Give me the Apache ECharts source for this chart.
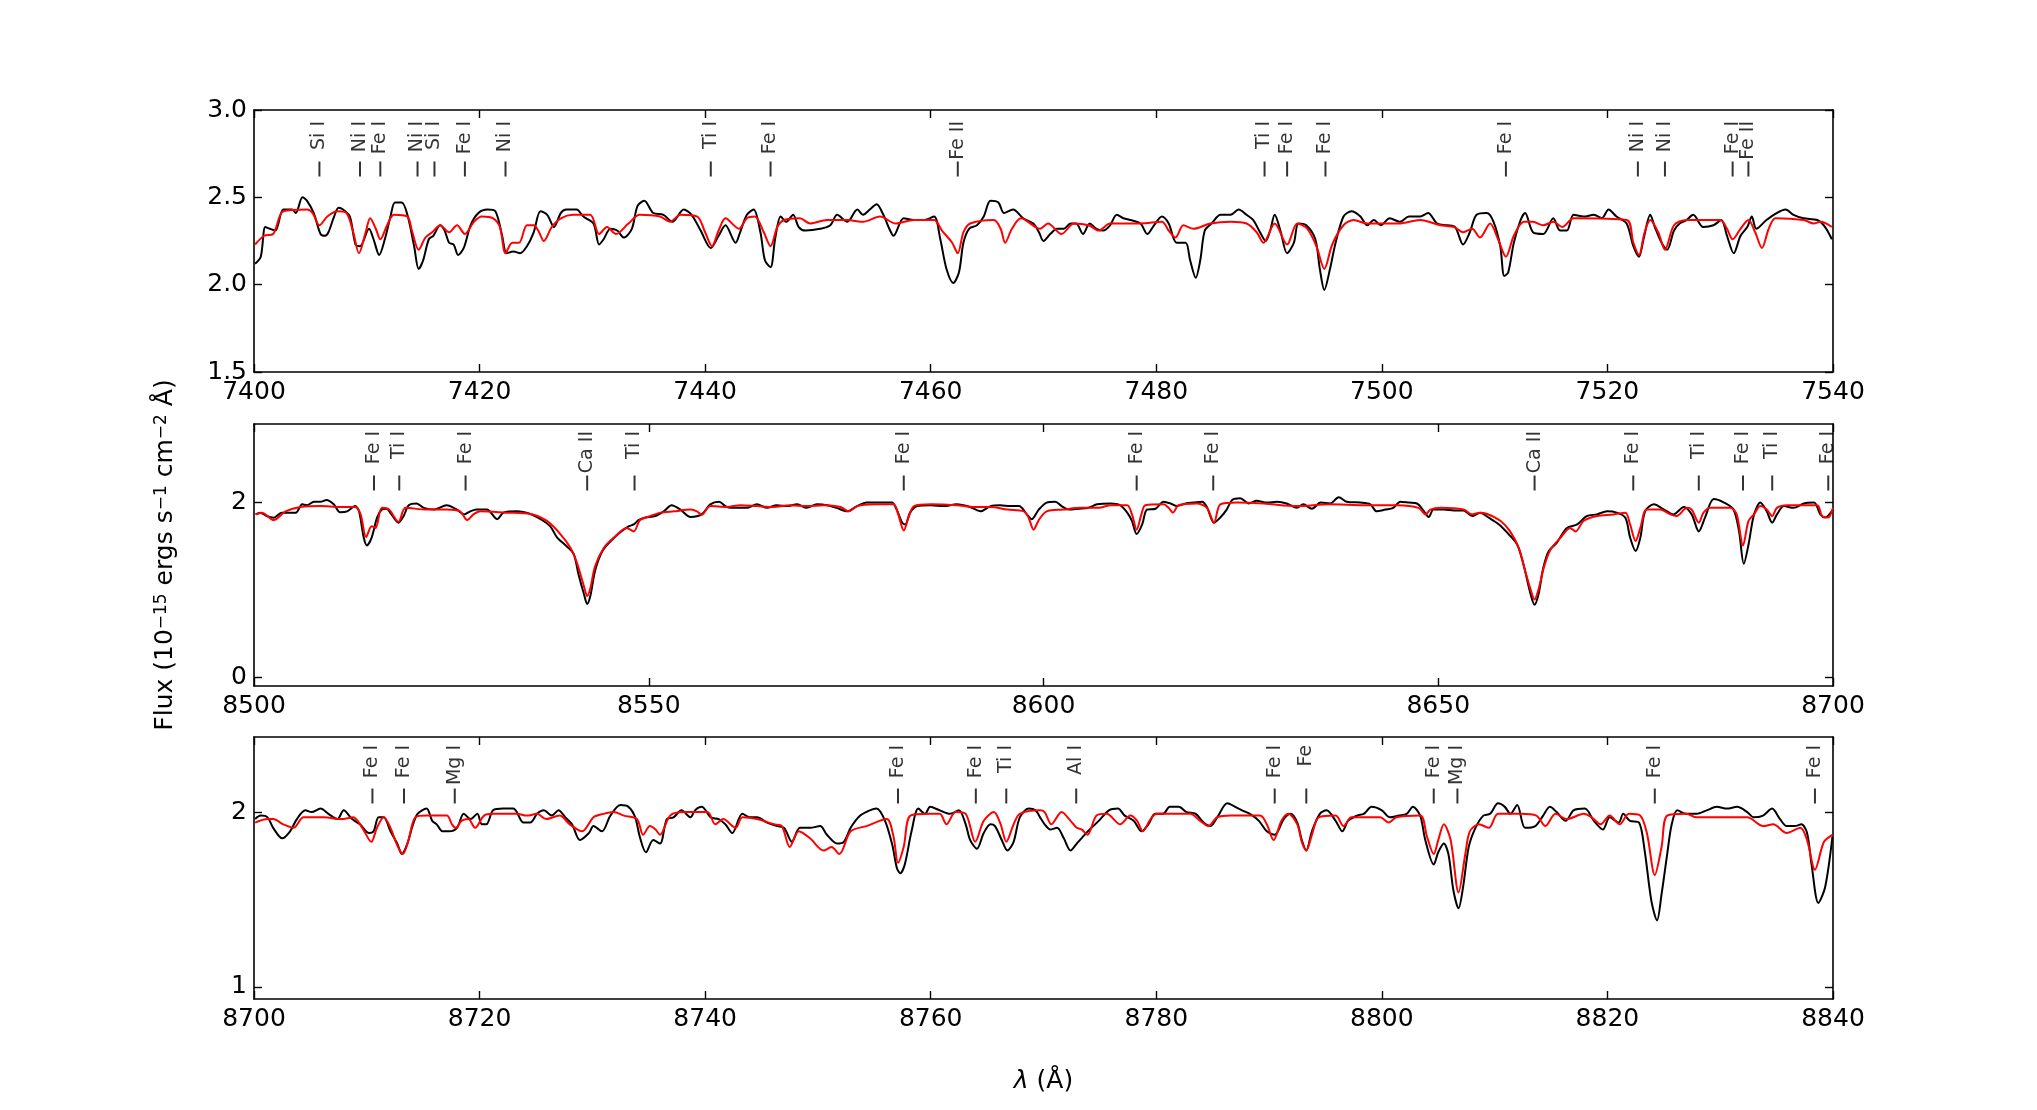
<!DOCTYPE html>
<html>
<head>
<meta charset="utf-8">
<script src="https://cdn.jsdelivr.net/npm/echarts@6/dist/echarts.min.js"></script>
<style>
html, body { margin: 0; padding: 0; background: #fff; }
#chart { width: 2037px; height: 1110px; }
</style>
</head>
<body>
<div id="chart"></div>
<script>
// observed (black) and model (red) spectra, [wavelength, flux]
var obs1 = [[7400.1,2.12],[7400.6,2.16],[7401.0,2.33],[7401.4,2.32],[7401.9,2.31],[7402.6,2.43],[7403.4,2.43],[7403.7,2.41],[7404.3,2.50],[7404.7,2.48],[7405.3,2.41],[7405.9,2.29],[7406.3,2.28],[7406.6,2.30],[7407.1,2.39],[7407.5,2.44],[7407.9,2.43],[7408.5,2.39],[7409.0,2.23],[7409.4,2.22],[7410.2,2.32],[7410.6,2.26],[7411.1,2.17],[7411.6,2.26],[7412.1,2.39],[7412.5,2.47],[7413.1,2.47],[7413.6,2.40],[7414.2,2.22],[7414.6,2.09],[7415.0,2.14],[7415.5,2.26],[7415.9,2.28],[7416.5,2.34],[7416.9,2.31],[7417.3,2.24],[7417.7,2.23],[7418.1,2.17],[7418.6,2.21],[7419.2,2.34],[7419.9,2.41],[7420.7,2.43],[7421.4,2.42],[7422.0,2.28],[7422.4,2.18],[7423.0,2.19],[7423.6,2.18],[7424.2,2.22],[7424.8,2.30],[7425.4,2.42],[7426.0,2.40],[7426.6,2.33],[7427.2,2.41],[7427.7,2.43],[7428.6,2.43],[7429.2,2.39],[7430.1,2.35],[7430.6,2.23],[7431.0,2.26],[7431.6,2.32],[7432.2,2.31],[7432.8,2.27],[7433.5,2.32],[7434.0,2.45],[7434.6,2.48],[7435.4,2.41],[7436.3,2.40],[7437.1,2.36],[7438.1,2.43],[7438.8,2.40],[7439.6,2.31],[7440.5,2.21],[7441.2,2.28],[7441.8,2.34],[7442.7,2.24],[7443.1,2.30],[7443.7,2.40],[7444.3,2.43],[7444.9,2.30],[7445.3,2.14],[7445.8,2.10],[7446.2,2.26],[7446.7,2.39],[7447.2,2.36],[7447.8,2.40],[7448.3,2.33],[7448.9,2.31],[7450.2,2.32],[7451.1,2.34],[7451.7,2.40],[7452.6,2.36],[7453.5,2.43],[7454.0,2.40],[7454.6,2.43],[7455.2,2.46],[7455.8,2.40],[7456.4,2.31],[7456.7,2.28],[7457.6,2.38],[7458.5,2.37],[7459.4,2.37],[7460.3,2.39],[7460.85,2.26],[7461.4,2.09],[7462.0,2.01],[7462.5,2.07],[7462.9,2.24],[7463.4,2.32],[7464.1,2.34],[7464.7,2.39],[7465.3,2.48],[7466.0,2.47],[7466.5,2.41],[7467.3,2.43],[7468.2,2.38],[7469.1,2.35],[7469.6,2.30],[7470.0,2.25],[7470.6,2.29],[7471.2,2.32],[7471.8,2.32],[7472.4,2.35],[7472.9,2.35],[7473.5,2.29],[7474.1,2.35],[7474.7,2.32],[7475.3,2.31],[7475.9,2.34],[7476.5,2.40],[7477.1,2.38],[7477.7,2.37],[7478.6,2.35],[7479.2,2.29],[7479.8,2.34],[7480.5,2.39],[7481.1,2.35],[7481.8,2.24],[7482.6,2.24],[7483.0,2.14],[7483.5,2.04],[7483.9,2.14],[7484.3,2.31],[7484.9,2.35],[7485.7,2.40],[7486.6,2.40],[7487.3,2.43],[7488.0,2.40],[7488.6,2.37],[7489.2,2.30],[7489.7,2.25],[7490.1,2.31],[7490.5,2.40],[7491.0,2.31],[7491.6,2.18],[7492.2,2.24],[7492.6,2.35],[7493.3,2.34],[7494.1,2.26],[7494.5,2.09],[7494.9,1.97],[7495.4,2.09],[7495.9,2.24],[7496.6,2.39],[7497.3,2.42],[7498.1,2.39],[7498.7,2.34],[7499.3,2.37],[7499.9,2.34],[7500.7,2.38],[7501.6,2.36],[7502.4,2.39],[7503.4,2.39],[7504.1,2.41],[7504.9,2.35],[7505.8,2.34],[7506.5,2.33],[7507.2,2.23],[7507.8,2.30],[7508.4,2.40],[7509.3,2.41],[7509.9,2.36],[7510.5,2.22],[7510.85,2.05],[7511.2,2.07],[7511.7,2.24],[7512.3,2.37],[7512.7,2.41],[7513.4,2.30],[7514.3,2.29],[7515.2,2.38],[7515.8,2.31],[7516.4,2.31],[7517.0,2.40],[7517.9,2.39],[7518.8,2.40],[7519.5,2.38],[7520.1,2.43],[7520.8,2.39],[7521.7,2.35],[7522.3,2.22],[7522.8,2.16],[7523.2,2.26],[7523.8,2.40],[7524.2,2.33],[7524.8,2.24],[7525.3,2.20],[7525.9,2.31],[7526.4,2.35],[7527.0,2.37],[7527.6,2.40],[7528.5,2.33],[7529.4,2.34],[7530.1,2.37],[7530.6,2.28],[7531.2,2.18],[7531.8,2.28],[7532.4,2.33],[7532.8,2.39],[7533.2,2.32],[7534.1,2.37],[7535.0,2.41],[7535.8,2.43],[7536.5,2.40],[7537.4,2.38],[7538.6,2.37],[7539.3,2.33],[7539.9,2.26]];
var mod1 = [[7400.1,2.23],[7400.9,2.28],[7401.7,2.29],[7402.6,2.42],[7404.7,2.43],[7405.2,2.41],[7405.8,2.34],[7406.5,2.39],[7407.4,2.42],[7408.2,2.41],[7408.8,2.30],[7409.3,2.18],[7409.9,2.30],[7410.3,2.38],[7410.8,2.32],[7411.2,2.26],[7411.8,2.34],[7412.4,2.40],[7413.6,2.39],[7414.0,2.31],[7414.6,2.20],[7415.2,2.27],[7415.8,2.30],[7416.5,2.34],[7417.3,2.30],[7418.0,2.34],[7418.7,2.29],[7419.5,2.36],[7420.2,2.39],[7421.2,2.38],[7421.8,2.33],[7422.3,2.18],[7422.9,2.24],[7423.5,2.24],[7424.2,2.34],[7424.8,2.34],[7425.2,2.31],[7425.7,2.25],[7426.4,2.33],[7427.2,2.38],[7428.3,2.40],[7429.8,2.40],[7430.6,2.29],[7431.3,2.33],[7432.1,2.29],[7433.2,2.35],[7434.2,2.40],[7436.0,2.39],[7436.9,2.36],[7437.8,2.40],[7439.3,2.39],[7440.0,2.30],[7440.6,2.22],[7441.2,2.31],[7441.8,2.38],[7443.0,2.32],[7443.7,2.38],[7444.4,2.39],[7445.2,2.30],[7445.8,2.22],[7446.4,2.33],[7447.0,2.37],[7448.4,2.38],[7449.3,2.35],[7450.8,2.37],[7452.6,2.37],[7454.0,2.36],[7455.5,2.39],[7456.9,2.35],[7458.5,2.37],[7460.3,2.37],[7461.0,2.31],[7461.9,2.24],[7462.4,2.18],[7462.9,2.30],[7463.5,2.35],[7465.6,2.37],[7466.2,2.32],[7466.6,2.24],[7467.2,2.32],[7468.0,2.38],[7469.7,2.32],[7470.4,2.35],[7471.6,2.29],[7472.7,2.35],[7474.0,2.34],[7474.9,2.31],[7475.9,2.35],[7478.6,2.35],[7480.5,2.36],[7481.1,2.31],[7481.7,2.27],[7482.4,2.34],[7483.3,2.32],[7484.8,2.35],[7486.6,2.36],[7488.0,2.35],[7488.9,2.30],[7489.5,2.24],[7490.5,2.35],[7491.6,2.23],[7492.5,2.35],[7493.4,2.32],[7494.2,2.22],[7494.9,2.09],[7495.6,2.23],[7496.6,2.34],[7497.5,2.37],[7498.7,2.35],[7501.5,2.35],[7503.4,2.37],[7505.2,2.34],[7506.4,2.33],[7507.2,2.30],[7508.0,2.32],[7508.7,2.27],[7509.6,2.35],[7510.3,2.26],[7511.0,2.16],[7511.7,2.28],[7512.6,2.36],[7513.4,2.36],[7514.3,2.34],[7515.2,2.36],[7516.0,2.33],[7517.0,2.38],[7521.7,2.37],[7522.3,2.24],[7522.8,2.17],[7523.3,2.30],[7523.8,2.37],[7524.5,2.30],[7525.1,2.20],[7525.9,2.34],[7527.0,2.37],[7530.0,2.37],[7530.6,2.32],[7531.1,2.26],[7531.8,2.32],[7532.5,2.37],[7533.1,2.30],[7533.7,2.21],[7534.3,2.32],[7534.9,2.38],[7537.4,2.37],[7538.3,2.35],[7538.9,2.36],[7539.9,2.33]];

var obs2 = [[8500.2,1.865],[8500.8,1.885],[8501.6,1.846],[8502.5,1.827],[8503.5,1.885],[8504.6,1.885],[8505.3,1.885],[8506.1,1.98],[8506.7,1.97],[8507.6,2.01],[8508.4,2.01],[8509.2,2.03],[8510.1,1.98],[8510.9,1.89],[8511.8,1.90],[8512.8,1.96],[8513.3,1.90],[8513.9,1.60],[8514.3,1.51],[8514.9,1.60],[8515.6,1.83],[8516.2,1.92],[8516.8,1.93],[8517.4,1.865],[8518.3,1.77],[8518.95,1.846],[8519.6,1.97],[8520.6,1.99],[8521.5,1.94],[8522.8,1.92],[8524.4,1.97],[8525.7,1.92],[8526.6,1.865],[8527.4,1.90],[8528.2,1.92],[8529.5,1.92],[8530.8,1.81],[8531.6,1.885],[8533.3,1.90],[8535.0,1.87],[8536.3,1.81],[8537.5,1.73],[8538.4,1.60],[8539.6,1.50],[8540.5,1.41],[8541.1,1.18],[8541.8,0.95],[8542.2,0.84],[8542.6,0.93],[8543.2,1.22],[8544.1,1.44],[8545.2,1.56],[8546.4,1.66],[8547.5,1.73],[8548.1,1.75],[8548.7,1.80],[8549.6,1.83],[8550.8,1.846],[8551.9,1.90],[8552.9,1.97],[8554.0,1.92],[8555.3,1.835],[8556.7,1.865],[8557.8,1.98],[8558.9,2.01],[8559.9,1.95],[8561.2,1.94],[8562.4,1.94],[8563.7,1.98],[8565.0,1.94],[8566.2,1.97],[8567.5,1.96],[8568.8,1.98],[8570.0,1.94],[8571.3,1.98],[8572.6,1.97],[8573.8,1.94],[8575.1,1.90],[8576.4,1.96],[8577.6,2.00],[8579.3,2.00],[8580.8,2.00],[8581.4,1.92],[8582.1,1.77],[8582.5,1.75],[8583.1,1.885],[8584.0,1.96],[8585.7,1.97],[8587.4,1.96],[8589.0,1.98],[8590.7,1.95],[8592.0,1.90],[8593.3,1.96],[8594.5,1.97],[8595.8,1.96],[8596.9,1.96],[8597.9,1.865],[8598.5,1.81],[8599.4,1.92],[8600.4,2.00],[8601.5,2.01],[8602.3,1.96],[8603.2,1.92],[8604.5,1.93],[8605.7,1.94],[8606.8,1.98],[8608.5,1.99],[8609.7,1.97],[8610.6,1.885],[8611.2,1.79],[8611.8,1.64],[8612.5,1.75],[8613.1,1.92],[8614.2,1.93],[8615.2,2.01],[8616.1,1.99],[8616.9,1.96],[8618.0,1.99],[8619.0,2.00],[8620.1,2.01],[8620.7,1.95],[8621.6,1.77],[8622.4,1.83],[8623.2,1.92],[8623.9,2.03],[8624.9,2.05],[8626.0,1.99],[8627.0,2.02],[8628.3,2.00],[8629.6,2.01],[8630.8,1.99],[8632.1,1.94],[8632.9,1.98],[8634.0,1.93],[8635.1,2.00],[8636.3,1.99],[8637.4,2.06],[8638.4,2.01],[8640.1,2.00],[8641.4,1.98],[8642.2,1.90],[8643.3,1.92],[8644.3,1.94],[8645.2,2.01],[8646.3,2.00],[8647.3,1.99],[8648.2,1.90],[8648.8,1.835],[8649.4,1.92],[8650.7,1.92],[8652.0,1.91],[8653.2,1.91],[8654.3,1.846],[8655.3,1.885],[8656.4,1.827],[8657.7,1.75],[8658.9,1.64],[8660.0,1.52],[8660.8,1.29],[8661.7,0.95],[8662.2,0.83],[8662.7,0.95],[8663.3,1.25],[8664.0,1.445],[8665.0,1.54],[8666.3,1.71],[8667.6,1.75],[8668.8,1.846],[8670.1,1.865],[8671.4,1.90],[8672.6,1.885],[8673.7,1.827],[8674.3,1.60],[8675.0,1.445],[8675.6,1.60],[8676.2,1.90],[8677.3,1.98],[8678.6,1.92],[8679.8,1.865],[8681.1,1.95],[8682.1,1.865],[8683.0,1.67],[8683.8,1.83],[8684.9,2.04],[8686.2,2.00],[8687.4,1.92],[8688.1,1.67],[8688.7,1.30],[8689.3,1.52],[8690.0,1.865],[8690.8,2.00],[8691.6,1.90],[8692.3,1.77],[8692.9,1.865],[8693.8,1.96],[8695.0,1.94],[8696.3,1.99],[8697.6,2.00],[8698.4,1.865],[8699.0,1.83],[8700.0,1.92]];
var mod2 = [[8500.2,1.865],[8501.0,1.885],[8502.5,1.80],[8504.0,1.90],[8505.9,1.95],[8508.4,1.96],[8510.9,1.95],[8512.8,1.95],[8513.5,1.865],[8514.2,1.605],[8514.9,1.73],[8515.4,1.71],[8516.2,1.94],[8517.1,1.92],[8518.3,1.78],[8519.2,1.94],[8521.9,1.92],[8524.4,1.92],[8526.1,1.90],[8527.0,1.80],[8527.8,1.865],[8528.7,1.90],[8532.0,1.885],[8535.0,1.87],[8537.1,1.79],[8538.8,1.64],[8540.1,1.48],[8540.9,1.31],[8541.8,1.04],[8542.2,0.93],[8542.6,1.02],[8543.2,1.27],[8544.3,1.48],[8545.6,1.60],[8547.2,1.71],[8548.1,1.67],[8548.9,1.80],[8550.2,1.846],[8551.5,1.885],[8553.2,1.90],[8555.3,1.92],[8556.1,1.90],[8556.7,1.86],[8557.8,1.96],[8559.9,1.95],[8561.6,1.97],[8563.7,1.96],[8565.8,1.95],[8567.9,1.97],[8570.0,1.96],[8572.2,1.97],[8574.3,1.95],[8575.3,1.90],[8576.4,1.96],[8578.5,1.98],[8581.0,1.98],[8581.6,1.865],[8582.3,1.68],[8582.9,1.83],[8583.6,1.96],[8585.7,1.98],[8589.0,1.97],[8591.2,1.95],[8593.3,1.95],[8595.4,1.92],[8597.5,1.90],[8598.1,1.83],[8598.75,1.69],[8599.4,1.80],[8600.4,1.90],[8602.5,1.92],[8604.7,1.94],[8607.0,1.94],[8608.5,1.97],[8610.6,1.97],[8611.2,1.865],[8611.8,1.69],[8612.4,1.865],[8612.9,1.97],[8615.2,1.98],[8615.85,1.94],[8616.4,1.885],[8617.1,1.97],[8619.4,1.99],[8620.7,1.94],[8621.6,1.77],[8622.4,1.98],[8624.5,2.00],[8627.9,1.99],[8632.1,1.96],[8636.3,1.98],[8640.6,1.97],[8644.8,1.97],[8647.5,1.94],[8648.4,1.865],[8649.0,1.92],[8650.3,1.94],[8653.2,1.92],[8654.3,1.865],[8655.3,1.885],[8656.2,1.87],[8657.9,1.79],[8659.1,1.67],[8660.2,1.48],[8661.0,1.22],[8661.7,1.005],[8662.2,0.89],[8662.7,1.005],[8663.35,1.25],[8664.2,1.46],[8665.5,1.60],[8666.7,1.71],[8667.4,1.67],[8668.4,1.79],[8670.1,1.846],[8672.2,1.865],[8673.7,1.885],[8674.3,1.75],[8675.0,1.56],[8675.6,1.71],[8676.4,1.92],[8678.1,1.92],[8679.4,1.865],[8680.2,1.846],[8681.5,1.94],[8682.1,1.92],[8683.0,1.77],[8683.6,1.885],[8684.5,1.94],[8687.0,1.94],[8687.8,1.865],[8688.6,1.51],[8689.3,1.79],[8690.0,1.865],[8690.8,1.96],[8691.6,1.92],[8692.3,1.846],[8692.9,1.94],[8694.2,1.97],[8698.0,1.97],[8698.6,1.846],[8699.4,1.83],[8700.0,1.94]];

var obs3 = [[8700.1,1.96],[8700.6,1.98],[8701.2,1.97],[8701.7,1.91],[8702.5,1.85],[8703.2,1.89],[8703.8,1.96],[8704.55,2.01],[8705.1,2.00],[8705.9,2.02],[8706.6,1.99],[8707.4,1.96],[8707.95,2.01],[8708.7,1.96],[8709.4,1.93],[8710.2,1.88],[8710.6,1.89],[8711.05,1.97],[8711.5,1.97],[8712.1,1.89],[8712.7,1.82],[8713.1,1.76],[8713.6,1.82],[8714.0,1.91],[8714.5,1.99],[8715.3,2.02],[8715.8,1.95],[8716.2,1.93],[8716.7,1.89],[8717.3,1.89],[8718.0,1.91],[8718.6,1.99],[8719.2,1.96],[8719.8,1.99],[8720.2,1.93],[8720.6,1.93],[8721.2,2.01],[8722.1,2.02],[8723.0,2.02],[8723.9,1.94],[8724.5,1.94],[8725.1,1.99],[8725.7,2.01],[8726.4,1.98],[8727.0,2.01],[8727.6,1.97],[8728.2,1.93],[8728.9,1.84],[8729.7,1.88],[8730.1,1.92],[8730.85,1.89],[8731.6,1.98],[8732.5,2.04],[8733.2,2.03],[8733.8,1.97],[8734.2,1.86],[8734.75,1.77],[8735.4,1.84],[8736.0,1.82],[8736.6,1.96],[8737.2,1.97],[8737.9,2.01],[8738.7,1.97],[8739.1,2.01],[8739.7,2.03],[8740.5,1.97],[8741.2,1.96],[8741.8,1.93],[8742.4,1.88],[8743.3,1.99],[8744.0,1.97],[8744.6,1.97],[8745.5,1.94],[8746.4,1.92],[8747.0,1.91],[8747.7,1.83],[8748.4,1.91],[8749.3,1.91],[8750.2,1.92],[8750.8,1.87],[8751.7,1.82],[8752.3,1.83],[8752.9,1.91],[8753.75,1.98],[8754.6,2.01],[8755.2,2.02],[8755.95,1.95],[8756.6,1.81],[8757.0,1.68],[8757.3,1.65],[8757.7,1.70],[8758.3,1.89],[8758.9,2.02],[8759.5,1.99],[8759.95,2.03],[8760.8,2.01],[8761.7,1.99],[8762.5,2.01],[8763.1,1.93],[8763.5,1.84],[8764.1,1.79],[8764.7,1.88],[8765.3,1.93],[8765.7,1.92],[8766.3,1.84],[8766.8,1.78],[8767.35,1.83],[8767.9,1.97],[8768.7,2.02],[8769.3,2.01],[8769.7,1.97],[8770.1,1.93],[8770.6,1.90],[8771.2,1.91],[8771.8,1.85],[8772.4,1.78],[8772.95,1.82],[8773.5,1.86],[8774.1,1.90],[8774.9,1.95],[8775.8,2.01],[8776.6,2.02],[8777.2,1.98],[8778.0,1.95],[8778.7,1.89],[8779.3,1.93],[8779.9,1.99],[8780.6,1.99],[8781.2,2.03],[8782.0,2.03],[8782.7,2.00],[8783.5,1.99],[8784.2,1.94],[8784.8,1.92],[8785.4,1.97],[8786.3,2.05],[8787.0,2.03],[8787.6,2.01],[8788.3,1.99],[8789.1,1.95],[8789.8,1.89],[8790.5,1.87],[8791.3,1.96],[8791.9,1.99],[8792.5,1.94],[8792.9,1.84],[8793.3,1.78],[8793.8,1.89],[8794.5,1.99],[8795.1,2.01],[8795.9,1.95],[8796.5,1.89],[8797.0,1.95],[8797.8,1.98],[8798.4,1.99],[8799.1,2.03],[8800.0,2.01],[8800.7,1.97],[8801.5,1.98],[8802.2,1.99],[8802.75,2.03],[8803.4,1.98],[8803.85,1.84],[8804.6,1.70],[8805.0,1.77],[8805.5,1.82],[8805.9,1.76],[8806.35,1.55],[8806.8,1.45],[8807.2,1.57],[8807.7,1.80],[8808.3,1.91],[8809.0,1.98],[8809.6,1.99],[8810.3,2.05],[8810.9,2.03],[8811.4,1.99],[8812.0,2.04],[8812.7,1.91],[8813.6,1.92],[8814.3,1.98],[8814.9,2.03],[8815.5,2.00],[8816.3,1.95],[8817.0,2.01],[8818.0,2.02],[8818.8,1.95],[8819.6,1.90],[8820.2,1.97],[8821.0,1.94],[8821.4,1.99],[8822.0,1.95],[8822.8,1.94],[8823.3,1.78],[8823.9,1.49],[8824.4,1.38],[8824.8,1.53],[8825.3,1.76],[8825.7,1.93],[8826.2,2.01],[8827.0,1.99],[8827.9,1.99],[8828.8,2.01],[8829.7,2.03],[8830.6,2.02],[8831.5,2.03],[8832.4,2.00],[8832.95,1.97],[8833.8,1.98],[8834.6,2.02],[8835.3,1.96],[8835.9,1.92],[8836.6,1.92],[8837.2,1.93],[8837.7,1.88],[8838.1,1.70],[8838.7,1.48],[8839.3,1.57],[8839.95,1.86]];
var mod3 = [[8700.1,1.94],[8701.2,1.96],[8701.7,1.96],[8702.6,1.93],[8703.5,1.91],[8704.4,1.97],[8706.2,1.97],[8707.7,1.96],[8708.8,1.97],[8709.6,1.91],[8710.4,1.83],[8710.9,1.91],[8711.5,1.97],[8712.1,1.91],[8712.7,1.81],[8713.2,1.76],[8713.7,1.84],[8714.3,1.97],[8715.3,1.98],[8717.1,1.98],[8717.55,1.93],[8717.9,1.91],[8718.4,1.95],[8719.0,1.96],[8719.6,1.91],[8720.4,1.98],[8721.2,1.99],[8723.3,1.99],[8724.2,1.98],[8725.1,1.99],[8725.9,1.96],[8727.1,1.98],[8728.0,1.93],[8729.1,1.89],[8730.1,1.97],[8731.0,1.99],[8731.9,2.00],[8732.8,1.98],[8733.96,1.96],[8734.5,1.87],[8735.1,1.92],[8735.6,1.90],[8736.0,1.87],[8736.9,1.98],[8738.1,2.00],[8740.2,2.00],[8740.9,1.93],[8741.6,1.96],[8742.7,1.91],[8743.3,1.97],[8744.6,1.96],[8746.1,1.93],[8746.8,1.92],[8747.5,1.80],[8748.3,1.89],[8749.3,1.85],[8750.5,1.78],[8751.2,1.80],[8751.9,1.76],[8752.9,1.89],[8754.3,1.92],[8756.1,1.96],[8756.7,1.86],[8757.1,1.71],[8757.6,1.80],[8758.2,1.98],[8759.95,1.99],[8760.8,1.99],[8761.4,1.93],[8762.2,2.00],[8763.1,1.99],[8763.95,1.83],[8764.7,1.95],[8765.6,2.00],[8766.2,1.93],[8766.7,1.83],[8767.35,1.93],[8767.9,1.99],[8769.7,2.01],[8770.1,2.00],[8770.7,1.93],[8771.6,2.00],[8772.4,1.95],[8772.95,1.91],[8773.4,1.90],[8773.9,1.87],[8774.7,1.98],[8775.6,1.99],[8776.8,1.93],[8777.7,1.98],[8778.3,1.95],[8778.8,1.89],[8779.5,1.96],[8780.05,1.99],[8783.0,1.99],[8783.9,1.95],[8784.6,1.92],[8785.4,1.97],[8786.6,1.98],[8789.2,1.98],[8789.8,1.93],[8790.4,1.84],[8791.1,1.95],[8791.7,1.99],[8792.5,1.93],[8792.9,1.83],[8793.3,1.78],[8793.8,1.87],[8794.4,1.97],[8795.9,1.98],[8796.6,1.92],[8797.3,1.97],[8798.7,1.97],[8799.85,1.97],[8800.6,1.94],[8801.3,1.97],[8803.4,1.98],[8804.0,1.86],[8804.6,1.76],[8805.0,1.84],[8805.5,1.93],[8806.1,1.84],[8806.8,1.54],[8807.4,1.76],[8807.8,1.89],[8808.6,1.93],[8809.5,1.91],[8810.3,1.99],[8812.3,1.99],[8813.7,1.98],[8814.5,1.92],[8815.4,1.99],[8816.4,1.96],[8817.9,1.99],[8818.6,1.97],[8819.4,1.93],[8820.2,1.98],[8821.1,1.93],[8821.9,1.99],[8822.9,1.98],[8823.5,1.88],[8824.2,1.64],[8824.8,1.80],[8825.3,1.98],[8827.0,1.99],[8827.9,1.97],[8830.0,1.97],[8832.4,1.97],[8833.8,1.92],[8834.7,1.93],[8835.9,1.88],[8837.1,1.91],[8837.7,1.84],[8838.4,1.67],[8839.2,1.83],[8839.95,1.87]];

// line identifications [wavelength, species]
var lines1 = [[7405.8,'Si I'],[7409.4,'Ni I'],[7411.2,'Fe I'],[7414.5,'Ni I'],[7416.0,'Si I'],[7418.7,'Fe I'],[7422.3,'Ni I'],[7440.5,'Ti I'],[7445.8,'Fe I'],[7462.4,'Fe II'],[7489.6,'Ti I'],[7491.6,'Fe I'],[7495.0,'Fe I'],[7511.0,'Fe I'],[7522.7,'Ni I'],[7525.1,'Ni I'],[7531.1,'Fe I'],[7532.5,'Fe II']];
var lines2 = [[8515.2,'Fe I'],[8518.4,'Ti I'],[8526.8,'Fe I'],[8542.2,'Ca II'],[8548.2,'Ti I'],[8582.3,'Fe I'],[8611.8,'Fe I'],[8621.5,'Fe I'],[8662.2,'Ca II'],[8674.7,'Fe I'],[8683.0,'Ti I'],[8688.6,'Fe I'],[8692.3,'Ti I'],[8699.4,'Fe I']];
var lines3 = [[8710.5,'Fe I'],[8713.3,'Fe I'],[8717.8,'Mg I'],[8757.1,'Fe I'],[8764.0,'Fe I'],[8766.7,'Ti I'],[8772.9,'Al I'],[8790.5,'Fe I'],[8793.3,'Fe'],[8804.6,'Fe I'],[8806.7,'Mg I'],[8824.2,'Fe I'],[8838.4,'Fe I']];

// axis ranges and ticks
var xRanges = [[7400, 7540, 20], [8500, 8700, 50], [8700, 8840, 20]];
var yRanges = [[1.5, 3.0], [-0.1, 2.9], [0.93, 2.43]];
var yTickVals = [[1.5, 2.0, 2.5, 3.0], [0, 2], [1, 2]];

var FONT = 'DejaVu Sans';
var chart = echarts.init(document.getElementById('chart'));

var panels = [
  { obs: obs1, mod: mod1, lines: lines1, top: 110, dec: 1, textTop: 11 },
  { obs: obs2, mod: mod2, lines: lines2, top: 424, dec: 0, textTop: 7 },
  { obs: obs3, mod: mod3, lines: lines3, top: 737, dec: 0, textTop: 8 }
];
var H = 262, TICKY = 59;

var grids = [], xAxes = [], yAxes = [], series = [];
var axLine = { show: true, onZero: false, lineStyle: { color: '#000', width: 1.6 } };
var tick = { show: true, inside: true, length: 8, lineStyle: { color: '#000', width: 1.4 } };
var lab = { color: '#000', fontFamily: FONT, fontSize: 25 };

panels.forEach(function (p, i) {
  var xr = xRanges[i], yr = yRanges[i], yt = yTickVals[i];
  grids.push({ left: 254, top: p.top, width: 1579, height: H });
  var xBase = { type: 'value', gridIndex: i, min: xr[0], max: xr[1], interval: xr[2],
    axisLine: axLine, axisTick: tick, splitLine: { show: false } };
  xAxes.push(Object.assign({}, xBase, { position: 'bottom',
    axisLabel: Object.assign({ margin: 8, showMinLabel: true, showMaxLabel: true,
      formatter: function (v) { return String(v); } }, lab) }));
  xAxes.push(Object.assign({}, xBase, { position: 'top', axisLabel: { show: false } }));
  var yBase = { type: 'value', gridIndex: i, min: yr[0], max: yr[1],
    axisLine: axLine, splitLine: { show: false },
    axisTick: Object.assign({ customValues: yt }, tick) };
  yAxes.push(Object.assign({}, yBase, { position: 'left',
    axisLabel: Object.assign({ margin: 7, customValues: yt,
      formatter: function (v) { return v.toFixed(p.dec); } }, lab) }));
  yAxes.push(Object.assign({}, yBase, { position: 'right', axisLabel: { show: false } }));

  series.push({ type: 'line', xAxisIndex: 2 * i, yAxisIndex: 2 * i, data: p.obs,
    showSymbol: false, smooth: 0.3, lineStyle: { color: '#000', width: 2 }, z: 2 });
  series.push({ type: 'line', xAxisIndex: 2 * i, yAxisIndex: 2 * i, data: p.mod,
    showSymbol: false, smooth: 0.3, lineStyle: { color: '#ff0000', width: 2 }, z: 3 });

  var yMark = yr[1] - TICKY / H * (yr[1] - yr[0]);
  series.push({ type: 'scatter', xAxisIndex: 2 * i, yAxisIndex: 2 * i, z: 4,
    symbol: 'rect', symbolSize: [2, 15], itemStyle: { color: '#000' },
    data: p.lines.map(function (l) { return { value: [l[0], yMark], name: l[1] }; }),
    label: { show: true, formatter: '{b}', color: '#000', fontFamily: FONT, fontSize: 19,
      rotate: 90, align: 'right', verticalAlign: 'middle',
      position: ['50%', p.textTop - TICKY + 7.5] } });
});

// axis titles
yAxes[2].name = '{n|Flux (10}{s|\u221215}{n| ergs s}{s|\u22121}{n| cm}{s|\u22122}{n| \u00c5)}';
yAxes[2].nameLocation = 'middle';
yAxes[2].nameRotate = 90;
yAxes[2].nameGap = 76;
yAxes[2].nameTextStyle = { color: '#000', fontFamily: FONT, rich: {
  n: { fontSize: 25, fontFamily: FONT, color: '#000' },
  s: { fontSize: 17, fontFamily: FONT, color: '#000', verticalAlign: 'top' } } };
xAxes[4].name = '{i|\u03bb} (\u00c5)';
xAxes[4].nameLocation = 'middle';
xAxes[4].nameGap = 70;
xAxes[4].nameTextStyle = { color: '#000', fontFamily: FONT, fontSize: 25, rich: {
  i: { fontSize: 25, fontFamily: FONT, fontStyle: 'italic', color: '#000' } } };

chart.setOption({
  animation: false,
  backgroundColor: '#fff',
  grid: grids,
  xAxis: xAxes,
  yAxis: yAxes,
  series: series
});
</script>
</body>
</html>
